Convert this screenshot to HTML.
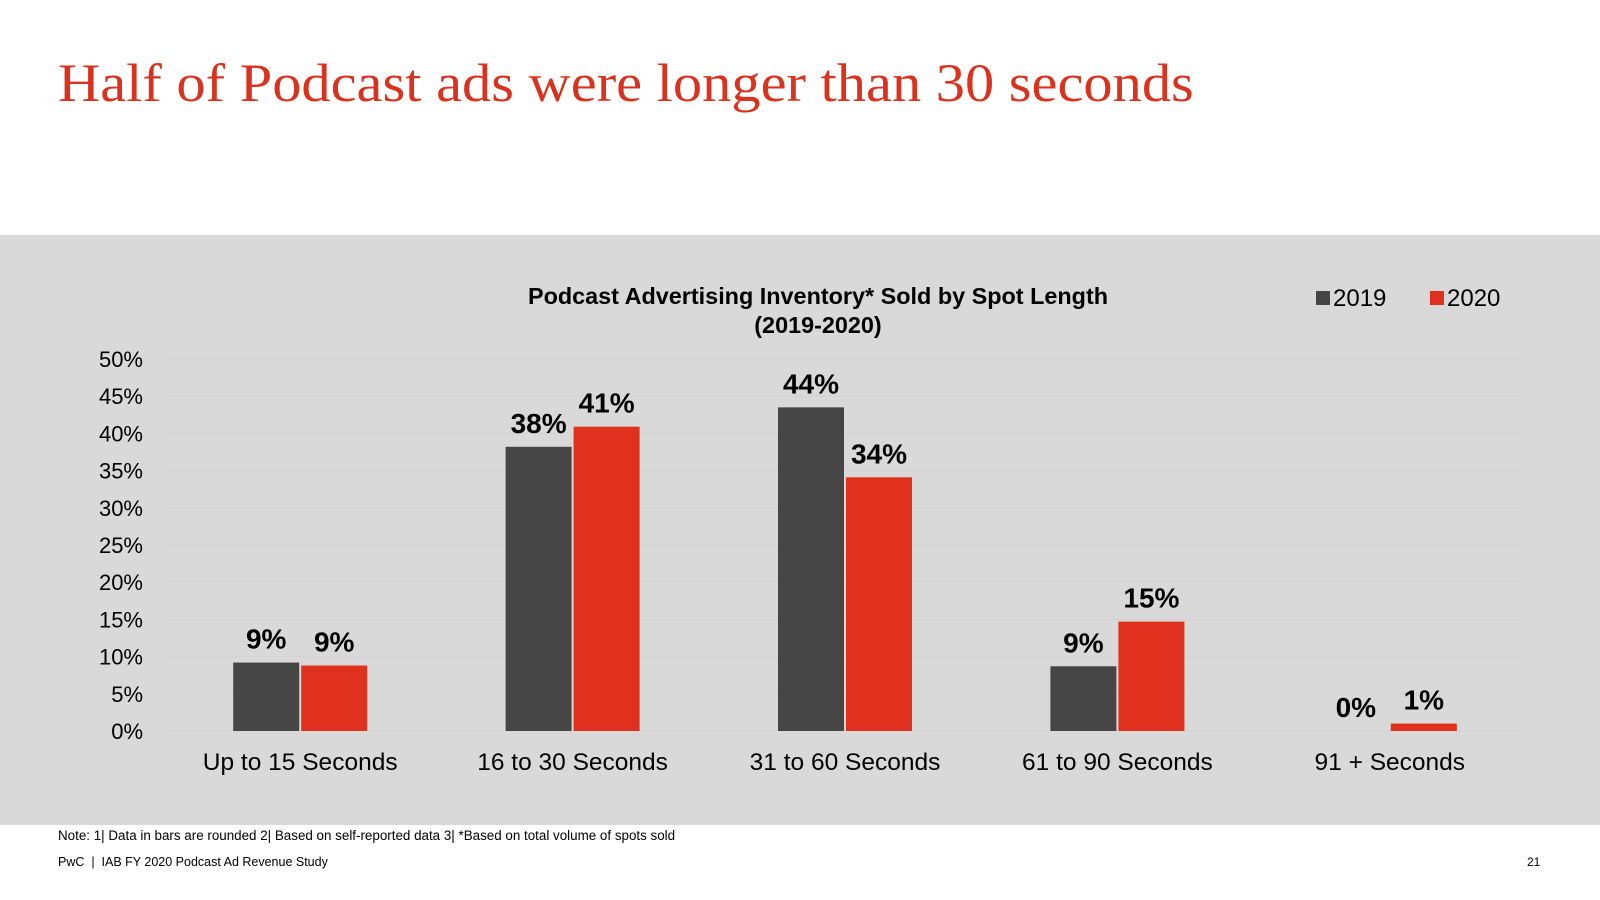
<!DOCTYPE html>
<html><head><meta charset="utf-8"><style>
body{margin:0;width:1600px;height:900px;background:#fff;position:relative;overflow:hidden;font-family:"Liberation Sans",sans-serif}
.t{position:absolute;white-space:nowrap}
</style></head><body>
<div class="t" style="left:58px;top:52px;font-family:'Liberation Serif',serif;font-size:54px;color:#d9331f;transform:scaleX(1.082);transform-origin:0 0">Half of Podcast ads were longer than 30 seconds</div>
<div style="position:absolute;left:0;top:235px;width:1600px;height:590px;background:#d9d9d9"></div>
<svg id="chart" width="1600" height="900" style="position:absolute;left:0;top:0"></svg>
<div class="t" style="left:58px;top:828px;font-size:13.4px;color:#000">Note: 1| Data in bars are rounded 2| Based on self-reported data 3| *Based on total volume of spots sold</div>
<div class="t" style="left:58px;top:855px;font-size:12.5px;color:#000">PwC &nbsp;|&nbsp; IAB FY 2020 Podcast Ad Revenue Study</div>
<div class="t" style="left:1527px;top:855px;font-size:12px;color:#000">21</div>
<script>
const categories=["Up to 15 Seconds","16 to 30 Seconds","31 to 60 Seconds","61 to 90 Seconds","91 + Seconds"];
const values2019=[9.2,38.2,43.5,8.7,0];
const values2020=[8.8,40.9,34.1,14.7,1.0];
const labels2019=["9%","38%","44%","9%","0%"];
const labels2020=["9%","41%","34%","15%","1%"];
const yTicks=[0,5,10,15,20,25,30,35,40,45,50];
const svg=document.getElementById('chart');
const NS="http://www.w3.org/2000/svg";
const x0=164,plotW=1362,y0=731,yMax=50,plotH=372;
const y=v=>y0-v/yMax*plotH;
const band=plotW/categories.length;
const cx=i=>x0+band*(i+0.5);
function mk(tag,attrs,txt){const e=document.createElementNS(NS,tag);for(const k in attrs)e.setAttribute(k,attrs[k]);if(txt!=null)e.textContent=txt;svg.appendChild(e);return e;}
yTicks.forEach(v=>{
 const l=mk('line',{x1:168,x2:1520,y1:y(v),y2:y(v),stroke:'#d2d2d2','stroke-width':1});
 
 
 const t=mk('text',{x:143,y:y(v)+8,'text-anchor':'end','font-size':22,fill:'#000','font-family':'Liberation Sans'},v+'%');
 
 
});
const bw=66;
categories.forEach((c,i)=>{
 const a=values2019[i],b=values2020[i];
 const r1=mk('rect',{x:cx(i)-bw-1,y:y(a),width:bw,height:y0-y(a),fill:'#464646'});
 
 
 const r2=mk('rect',{x:cx(i)+1,y:y(b),width:bw,height:y0-y(b),fill:'#e0301e'});
 
 
 const l1=mk('text',{x:cx(i)-bw/2-1,y:y(a)-14,'text-anchor':'middle','font-size':28,'font-weight':'bold',fill:'#000','font-family':'Liberation Sans'},labels2019[i]);
 
 
 const l2=mk('text',{x:cx(i)+bw/2+1,y:y(b)-14,'text-anchor':'middle','font-size':28,'font-weight':'bold',fill:'#000','font-family':'Liberation Sans'},labels2020[i]);
 
 
 const ct=mk('text',{x:cx(i),y:770,'text-anchor':'middle','font-size':24.5,fill:'#000','font-family':'Liberation Sans'},c);
 
 
});
const t1=mk('text',{x:818,y:304,'text-anchor':'middle','font-size':23.4,'font-weight':'bold',fill:'#000','font-family':'Liberation Sans'},'Podcast Advertising Inventory* Sold by Spot Length');


const t2=mk('text',{x:818,y:333,'text-anchor':'middle','font-size':23.4,'font-weight':'bold',fill:'#000','font-family':'Liberation Sans'},'(2019-2020)');


[['2019','#464646',1316],['2020','#e0301e',1430]].forEach(([n,c,x])=>{
 const s=mk('rect',{x:x,y:291,width:14,height:14,fill:c});
 
 
 const t=mk('text',{x:x+17,y:306,'font-size':24,fill:'#000','font-family':'Liberation Sans'},n);
 
 
});
</script>
</body></html>
